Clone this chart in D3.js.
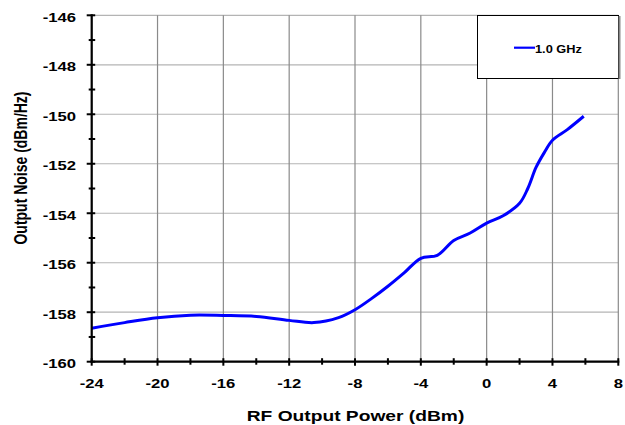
<!DOCTYPE html>
<html><head><meta charset="utf-8">
<script src="https://cdn.jsdelivr.net/npm/d3@7"></script>
<style>body{margin:0;background:#fff}svg{display:block}text{font-family:Arial,"Liberation Sans",sans-serif;font-weight:bold;fill:#000}</style>
</head><body>
<svg id="c" width="625" height="425"></svg>
<script>
const powerDbm = [-24, -22, -20, -18, -16, -14, -12, -10.5, -9, -8, -7, -6, -5, -4, -3, -2, -1, 0, 1, 2, 2.5, 3, 3.5, 4, 4.9, 5.9];
const noise1GHz = [-158.65, -158.42, -158.22, -158.12, -158.13, -158.17, -158.33, -158.42, -158.22, -157.9, -157.45, -156.95, -156.4, -155.82, -155.7, -155.1, -154.8, -154.4, -154.1, -153.6, -153.0, -152.15, -151.55, -151.05, -150.62, -150.08];
const seriesName = "1.0 GHz";
const xTicks = [-24, -20, -16, -12, -8, -4, 0, 4, 8];
const yTicks = [-146, -148, -150, -152, -154, -156, -158, -160];
const xTitle = "RF Output Power (dBm)";
const yTitle = "Output Noise (dBm/Hz)";

const SX = 1.28;
const svg = d3.select("#c");
const L = 91.7, R = 618.3, T = 15.3, B = 361.7;
const x = d3.scaleLinear().domain([-24, 8]).range([L, R]);
const y = d3.scaleLinear().domain([-160, -146]).range([B, T]);

function stretch(sel) {
  sel.each(function () {
    const n = this.getComputedTextLength();
    this.setAttribute("textLength", n * SX);
    this.setAttribute("lengthAdjust", "spacingAndGlyphs");
  });
}

// grid
svg.append("g").selectAll("line").data(yTicks).join("line")
  .attr("x1", L).attr("x2", R).attr("y1", d => y(d)).attr("y2", d => y(d))
  .attr("stroke", "#b4b4b4").attr("stroke-width", 1.2);
svg.append("g").selectAll("line").data(xTicks).join("line")
  .attr("y1", T).attr("y2", B).attr("x1", d => x(d)).attr("x2", d => x(d))
  .attr("stroke", "#8a8a8a").attr("stroke-width", 1.2);

// legend
const lg = svg.append("g");
lg.append("rect").attr("x", 477.5).attr("y", 15.5).attr("width", 141).attr("height", 63)
  .attr("fill", "#fff").attr("stroke", "#000").attr("stroke-width", 1);
lg.append("line").attr("x1", 619.5).attr("x2", 619.5).attr("y1", 16).attr("y2", 79).attr("stroke", "#888").attr("stroke-width", 2);
lg.append("line").attr("x1", 514).attr("x2", 535).attr("y1", 47.7).attr("y2", 47.7)
  .attr("stroke", "#0000ff").attr("stroke-width", 2.2);
lg.append("text").attr("x", 535).attr("y", 53.3).attr("font-size", 10).text(seriesName).call(stretch);

// data line
const pts = powerDbm.map((p, i) => [p, noise1GHz[i]]);
svg.append("path").datum(pts)
  .attr("d", d3.line().x(d => x(d[0])).y(d => y(d[1])).curve(d3.curveCatmullRom.alpha(0.5)))
  .attr("fill", "none").attr("stroke", "#0000ff").attr("stroke-width", 3);

// axes
const ax = svg.append("g").attr("stroke", "#000");
ax.append("line").attr("x1", L).attr("x2", L).attr("y1", T - 1).attr("y2", B + 1).attr("stroke-width", 2.2);
ax.append("line").attr("x1", L - 1).attr("x2", R + 1).attr("y1", B).attr("y2", B).attr("stroke-width", 2.2);
const yMinor = d3.range(-160, -145, 1);
ax.selectAll(".yt").data(yMinor).join("line")
  .attr("x1", d => (d % 2 === 0) ? L - 5 : L - 3).attr("x2", L + 3.5)
  .attr("y1", d => y(d)).attr("y2", d => y(d)).attr("stroke-width", 2);
const xMinor = d3.range(-24, 9, 2);
ax.selectAll(".xt").data(xMinor).join("line")
  .attr("x1", d => x(d)).attr("x2", d => x(d))
  .attr("y1", B - 3.5).attr("y2", d => (d % 4 === 0) ? B + 4 : B + 3).attr("stroke-width", 2);

// tick labels
svg.append("g").selectAll("text").data(yTicks).join("text")
  .attr("x", 76).attr("y", d => y(d) + 6.4).attr("text-anchor", "end").attr("font-size", 13)
  .text(d => String(d)).call(stretch);
svg.append("g").selectAll("text").data(xTicks).join("text")
  .attr("x", d => x(d)).attr("y", 387.7).attr("text-anchor", "middle").attr("font-size", 13)
  .text(d => String(d)).call(stretch);

// titles
svg.append("text").attr("x", 355.5).attr("y", 420.5).attr("text-anchor", "middle").attr("font-size", 15)
  .text(xTitle).call(stretch);
svg.append("text").attr("text-anchor", "middle").attr("font-size", 14)
  .attr("transform", "translate(27,168) scale(" + SX + ",1) rotate(-90)")
  .text(yTitle);
</script>
</body></html>
